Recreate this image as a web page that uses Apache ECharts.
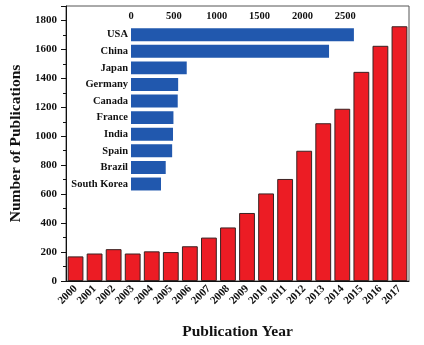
<!DOCTYPE html>
<html>
<head>
<meta charset="utf-8">
<script src="https://cdn.jsdelivr.net/npm/echarts@6/dist/echarts.min.js"></script>
<style>
  html, body { margin: 0; padding: 0; background: #fff; }
  #chart { width: 424px; height: 345px; }
</style>
</head>
<body>
<div id="chart"></div>
<script>
// Publications per year (main bars)
const years = ['2000','2001','2002','2003','2004','2005','2006','2007','2008',
               '2009','2010','2011','2012','2013','2014','2015','2016','2017'];
const publications = [170, 190, 220, 190, 205, 200, 240, 300, 370,
                      470, 605, 705, 900, 1090, 1190, 1445, 1625, 1760];

// Publications by country (inset bars)
const countries = ['USA','China','Japan','Germany','Canada','France','India','Spain','Brazil','South Korea'];
const countryCounts = [2600, 2310, 650, 550, 545, 495, 490, 480, 405, 350];

// Axis ticks
const yTicks = { min: 0, max: 1900, interval: 200 };
const insetTicks = { min: 0, max: 3000, interval: 500, lastLabel: 2500 };

const FONT = 'Liberation Serif';
const INK = '#111';

const chart = echarts.init(document.getElementById('chart'), null, { renderer: 'canvas' });

chart.setOption({
  animation: false,
  backgroundColor: '#fff',
  grid: [
    { left: 66, right: 15, top: 6, bottom: 63, show: true, borderColor: '#555', borderWidth: 1 },
    { left: 131, right: 35.8, top: 26.4, bottom: 152.7 }
  ],
  xAxis: [
    {
      gridIndex: 0,
      type: 'category',
      data: years,
      name: 'Publication Year',
      nameLocation: 'middle',
      nameGap: 43,
      nameTextStyle: { fontFamily: FONT, fontWeight: 'bold', fontSize: 15.5, color: INK },
      axisLine: { lineStyle: { color: INK, width: 1 } },
      axisTick: { alignWithLabel: true, length: 5, lineStyle: { color: INK } },
      axisLabel: {
        rotate: 45, margin: 6, interval: 0,
        fontFamily: FONT, fontWeight: 'bold', fontSize: 11, color: INK
      }
    },
    {
      gridIndex: 1,
      type: 'value',
      position: 'top',
      min: insetTicks.min, max: insetTicks.max, interval: insetTicks.interval,
      axisLine: { show: false },
      axisTick: { show: false },
      splitLine: { show: false },
      axisLabel: {
        margin: 5,
        fontFamily: FONT, fontWeight: 'bold', fontSize: 10.5, color: INK,
        formatter: v => (v > insetTicks.lastLabel ? '' : String(v))
      }
    }
  ],
  yAxis: [
    {
      gridIndex: 0,
      type: 'value',
      min: yTicks.min, max: yTicks.max, interval: yTicks.interval,
      name: 'Number of Publications',
      nameLocation: 'middle',
      nameGap: 40,
      nameRotate: 90,
      nameTextStyle: { fontFamily: FONT, fontWeight: 'bold', fontSize: 15.5, color: INK },
      axisLine: { show: true, lineStyle: { color: INK, width: 1 } },
      axisTick: { show: true, length: 5, lineStyle: { color: INK } },
      minorTick: { show: true, splitNumber: 2, length: 3, lineStyle: { color: INK } },
      splitLine: { show: false },
      axisLabel: {
        margin: 9,
        fontFamily: FONT, fontWeight: 'bold', fontSize: 11, color: INK,
        formatter: v => (v > 1800 ? '' : String(v))
      }
    },
    {
      gridIndex: 1,
      type: 'category',
      data: countries,
      inverse: true,
      axisLine: { show: false },
      axisTick: { show: false },
      axisLabel: {
        margin: 3, interval: 0,
        fontFamily: FONT, fontWeight: 'bold', fontSize: 10.5, color: INK
      }
    }
  ],
  series: [
    {
      type: 'bar',
      xAxisIndex: 0, yAxisIndex: 0,
      data: publications,
      barCategoryGap: '17%',
      itemStyle: { color: '#EC1C24', borderColor: '#3a2222', borderWidth: 1 }
    },
    {
      type: 'bar',
      xAxisIndex: 1, yAxisIndex: 1,
      data: countryCounts,
      barCategoryGap: '22%',
      z: 5,
      itemStyle: { color: '#2158AE' }
    }
  ]
});
</script>
</body>
</html>
